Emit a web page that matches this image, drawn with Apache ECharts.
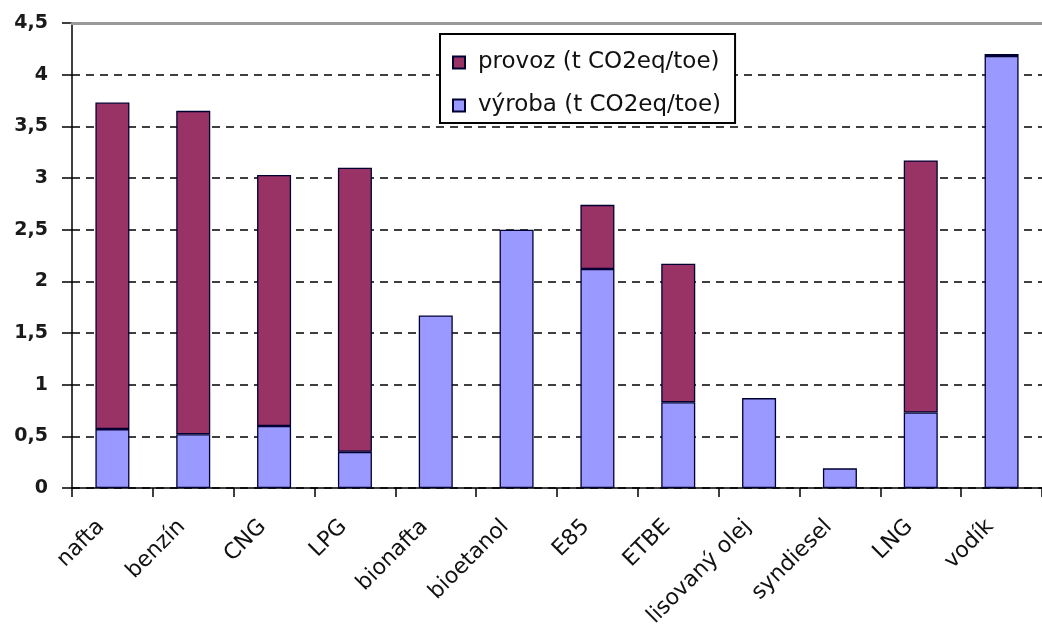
<!DOCTYPE html>
<html><head><meta charset="utf-8">
<script src="https://cdn.jsdelivr.net/npm/echarts@6/dist/echarts.min.js"></script>
<style>html,body{margin:0;padding:0;background:#fff}#c{width:1042px;height:636px}</style>
</head><body><div id="c"></div>
<script>
const categories = ['nafta','benzín','CNG','LPG','bionafta','bioetanol','E85','ETBE','lisovaný olej','syndiesel','LNG','vodík'];
const vyroba = [0.57, 0.52, 0.60, 0.35, 1.67, 2.50, 2.12, 0.83, 0.87, 0.19, 0.73, 4.18];
const provoz = [3.16, 3.13, 2.43, 2.75, null, null, 0.62, 1.34, null, null, 2.44, 0.02];
const seriesNames = ['provoz (t CO2eq/toe)', 'výroba (t CO2eq/toe)'];
const yTicks = {min: 0, max: 4.5, interval: 0.5};

const FONT = 'DejaVu Sans, Arial, sans-serif';
const chart = echarts.init(document.getElementById('c'), null, {renderer: 'canvas'});
const border = {borderColor: '#000033', borderWidth: 1.3};
chart.setOption({
  animation: false,
  backgroundColor: '#fff',
  grid: {left: 72, top: 23, bottom: 148, right: -10, containLabel: false},
  legend: {
    data: seriesNames,
    orient: 'vertical',
    left: 440, top: 34,
    padding: [17, 14, 6, 12],
    itemWidth: 12, itemHeight: 12, itemGap: 20,
    icon: 'rect',
    backgroundColor: '#fff',
    borderColor: '#000', borderWidth: 2,
    textStyle: {fontFamily: FONT, fontSize: 23, color: '#111', padding: [0, 0, 0, 8]}
  },
  xAxis: [{
    type: 'category', data: categories, boundaryGap: true,
    axisLine: {lineStyle: {color: '#000', width: 1.5}},
    axisTick: {show: true, length: 9, lineStyle: {color: '#000', width: 1.5}},
    axisLabel: {rotate: 45, margin: 24, interval: 0, fontFamily: FONT, fontSize: 22, color: '#111',
      padding: [0, 16, 0, 0]}
  }, {
    type: 'category', data: categories, position: 'top',
    axisLine: {show: true, lineStyle: {color: '#999', width: 3}},
    axisTick: {show: false}, axisLabel: {show: false}, splitLine: {show: false}, z: 5
  }],
  yAxis: {
    type: 'value', min: yTicks.min, max: yTicks.max, interval: yTicks.interval,
    axisLine: {show: true, lineStyle: {color: '#000', width: 1.5}},
    axisTick: {show: true, length: 10, lineStyle: {color: '#000', width: 1.5}},
    axisLabel: {margin: 24, fontFamily: FONT, fontSize: 19, fontWeight: 'bold', color: '#1a1a1a',
      formatter: v => String(v).replace('.', ',')},
    splitLine: {show: true, lineStyle: {color: '#000', width: 1.5, type: [8, 6]}}
  },
  series: [{
    name: seriesNames[1], type: 'bar', stack: 'a', data: vyroba, barWidth: 34,
    itemStyle: Object.assign({color: '#9999FF'}, border)
  }, {
    name: seriesNames[0], type: 'bar', stack: 'a', data: provoz, barWidth: 34,
    itemStyle: Object.assign({color: '#993366'}, border)
  }]
});
</script></body></html>
